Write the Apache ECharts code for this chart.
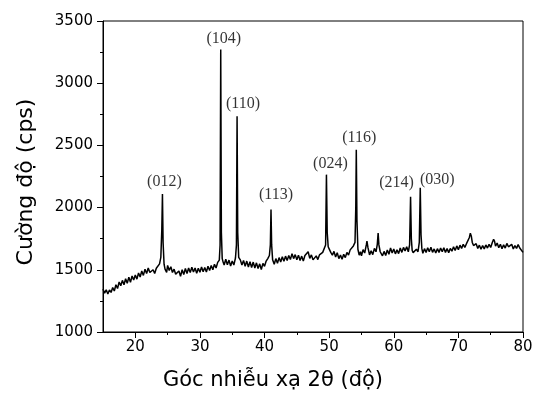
<!DOCTYPE html>
<html>
<head>
<meta charset="utf-8">
<script src="https://cdn.jsdelivr.net/npm/echarts@6/dist/echarts.min.js"></script>
<style>
  html, body { margin: 0; padding: 0; background: #fff; }
  #chart { width: 536px; height: 396px; }
</style>
</head>
<body>
<div id="chart"></div>
<script>
// XRD scan: 2θ (deg) and intensity (cps)
const angle = [
  15.00, 15.25, 15.50, 15.75, 16.00, 16.25, 16.50, 16.75, 17.00, 17.25,
  17.50, 17.75, 18.00, 18.25, 18.50, 18.75, 19.00, 19.25, 19.50, 19.75,
  20.00, 20.25, 20.50, 20.75, 21.00, 21.25, 21.50, 21.75, 22.00, 22.25,
  22.50, 22.75, 23.00, 23.25, 23.50, 23.75, 23.95, 24.10, 24.20, 24.30,
  24.45, 24.60, 24.85, 25.00, 25.25, 25.50, 25.75, 26.00, 26.25, 26.50,
  26.75, 27.00, 27.25, 27.50, 27.75, 28.00, 28.25, 28.50, 28.75, 29.00,
  29.25, 29.50, 29.75, 30.00, 30.25, 30.50, 30.75, 31.00, 31.25, 31.50,
  31.75, 32.00, 32.25, 32.50, 32.75, 33.00, 33.12, 33.22, 33.32, 33.45,
  33.60, 33.75, 34.00, 34.25, 34.50, 34.75, 35.00, 35.25, 35.50, 35.65,
  35.75, 35.85, 36.00, 36.25, 36.50, 36.75, 37.00, 37.25, 37.50, 37.75,
  38.00, 38.25, 38.50, 38.75, 39.00, 39.25, 39.50, 39.75, 40.00, 40.25,
  40.50, 40.75, 40.90, 41.00, 41.10, 41.25, 41.50, 41.75, 42.00, 42.25,
  42.50, 42.75, 43.00, 43.25, 43.50, 43.75, 44.00, 44.25, 44.50, 44.75,
  45.00, 45.25, 45.50, 45.75, 46.00, 46.25, 46.50, 46.75, 47.00, 47.25,
  47.50, 47.75, 48.00, 48.25, 48.50, 48.75, 49.00, 49.25, 49.45, 49.58,
  49.70, 49.85, 50.00, 50.25, 50.50, 50.75, 51.00, 51.25, 51.50, 51.75,
  52.00, 52.25, 52.50, 52.75, 53.00, 53.25, 53.50, 53.75, 54.00, 54.12,
  54.20, 54.30, 54.45, 54.65, 54.85, 55.00, 55.25, 55.50, 55.75, 55.85,
  56.00, 56.25, 56.50, 56.75, 57.00, 57.25, 57.45, 57.58, 57.70, 57.90,
  58.00, 58.25, 58.50, 58.75, 59.00, 59.25, 59.50, 59.75, 60.00, 60.25,
  60.50, 60.75, 61.00, 61.25, 61.50, 61.75, 62.00, 62.25, 62.45, 62.60,
  62.72, 62.85, 63.00, 63.25, 63.50, 63.75, 63.95, 64.10, 64.22, 64.35,
  64.50, 64.75, 65.00, 65.25, 65.50, 65.75, 66.00, 66.25, 66.50, 66.75,
  67.00, 67.25, 67.50, 67.75, 68.00, 68.25, 68.50, 68.75, 69.00, 69.25,
  69.50, 69.75, 70.00, 70.25, 70.50, 70.75, 71.00, 71.25, 71.50, 71.70,
  71.85, 72.00, 72.15, 72.35, 72.50, 72.75, 73.00, 73.25, 73.50, 73.75,
  74.00, 74.25, 74.50, 74.75, 75.00, 75.25, 75.45, 75.60, 75.75, 76.00,
  76.25, 76.50, 76.75, 77.00, 77.25, 77.50, 77.75, 78.00, 78.25, 78.50,
  78.75, 79.00, 79.25, 79.50, 79.75, 80.00
];
const count = [
  1345, 1312, 1340, 1305, 1338, 1318, 1358, 1330, 1380, 1350,
  1402, 1372, 1415, 1380, 1428, 1392, 1440, 1400, 1450, 1418,
  1458, 1425, 1475, 1442, 1490, 1455, 1505, 1470, 1515, 1478,
  1462, 1500, 1470, 1512, 1525, 1548, 1600, 1820, 2110, 1720,
  1545, 1505, 1480, 1535, 1495, 1525, 1478, 1505, 1465, 1452,
  1490, 1448, 1500, 1462, 1510, 1470, 1515, 1478, 1520, 1482,
  1515, 1472, 1512, 1480, 1522, 1485, 1518, 1482, 1528, 1495,
  1535, 1500, 1545, 1515, 1560, 1578, 1700, 3270, 1800, 1590,
  1560, 1538, 1585, 1540, 1578, 1530, 1570, 1538, 1595, 1700,
  2735, 1800, 1600, 1580, 1538, 1575, 1528, 1570, 1522, 1565,
  1518, 1562, 1515, 1556, 1510, 1548, 1502, 1552, 1528, 1570,
  1590, 1615, 1700, 1985, 1700, 1580, 1545, 1590, 1552, 1598,
  1562, 1605, 1568, 1610, 1575, 1615, 1582, 1630, 1590, 1622,
  1580, 1618, 1575, 1610, 1570, 1615, 1605, 1645, 1592, 1620,
  1580, 1572, 1612, 1582, 1620, 1612, 1640, 1650, 1700, 2265,
  1800, 1685, 1668, 1640, 1618, 1648, 1602, 1638, 1590, 1618,
  1585, 1625, 1598, 1640, 1618, 1660, 1655, 1692, 1720, 2000,
  2465, 1900, 1665, 1618, 1645, 1612, 1662, 1635, 1700, 1730,
  1680, 1620, 1652, 1622, 1672, 1645, 1705, 1796, 1700, 1645,
  1650, 1612, 1648, 1615, 1660, 1625, 1675, 1635, 1668, 1628,
  1660, 1630, 1675, 1640, 1680, 1652, 1685, 1645, 1700, 2088,
  1750, 1655, 1638, 1632, 1665, 1645, 1720, 2160, 1780, 1670,
  1632, 1670, 1640, 1678, 1645, 1682, 1640, 1668, 1635, 1670,
  1640, 1675, 1645, 1678, 1640, 1670, 1638, 1672, 1650, 1685,
  1655, 1692, 1662, 1698, 1672, 1705, 1680, 1710, 1712, 1760,
  1795, 1770, 1720, 1695, 1680, 1710, 1672, 1698, 1665, 1695,
  1668, 1700, 1675, 1705, 1680, 1720, 1745, 1728, 1690, 1715,
  1678, 1705, 1670, 1700, 1675, 1712, 1685, 1695, 1705, 1668,
  1695, 1672, 1702, 1675, 1690, 1640
];

// indexed reflections
const peakHkl = ['(012)', '(104)', '(110)', '(113)', '(024)', '(116)', '(214)', '(030)'];
const peakAngle = [24.20, 33.22, 35.75, 41.00, 49.58, 54.20, 62.60, 64.10];

const xTickLabels = [20, 30, 40, 50, 60, 70, 80];
const xMinorTicks = [25, 35, 45, 55, 65, 75];

// label nudges (px) so the hkl text sits where it does in the original
const labelNudge = [[2, -4], [3, -3], [6, -4], [5, -7], [4, -3], [3, -4], [-14, -6], [17, 0]];

const scan = angle.map((a, i) => [a, count[i]]);

// top of each reflection = highest count within ±0.2° of its angle
const peakTop = peakAngle.map(p => {
  let m = 0;
  angle.forEach((a, i) => { if (Math.abs(a - p) <= 0.2 && count[i] > m) m = count[i]; });
  return m;
});

const chart = echarts.init(document.getElementById('chart'));

const tickFont = { fontFamily: 'DejaVu Sans', fontSize: 15, color: '#000' };

const option = {
  animation: false,
  backgroundColor: '#fff',
  grid: {
    left: 103, right: 13, top: 21, bottom: 61,
    show: true, borderColor: '#000', borderWidth: 1, backgroundColor: 'transparent'
  },
  xAxis: [
    {
      type: 'value',
      min: 15,
      max: 80,
      position: 'bottom',
      name: 'Góc nhiễu xạ 2θ (độ)',
      nameLocation: 'middle',
      nameGap: 38,
      nameTextStyle: { fontFamily: 'DejaVu Sans', fontSize: 21, color: '#000', padding: [0, 80, 0, 0] },
      axisLine: { show: true, onZero: false, lineStyle: { color: '#000', width: 1 } },
      axisTick: { show: true, inside: false, length: 6, customValues: xTickLabels, lineStyle: { color: '#000' } },
      axisLabel: { ...tickFont, margin: 8, customValues: xTickLabels },
      splitLine: { show: false }
    },
    {
      type: 'value',
      min: 15,
      max: 80,
      position: 'bottom',
      axisLine: { show: false },
      axisTick: { show: true, inside: false, length: 3, customValues: xMinorTicks, lineStyle: { color: '#000' } },
      axisLabel: { show: false },
      splitLine: { show: false }
    }
  ],
  yAxis: {
    type: 'value',
    min: 1000,
    max: 3500,
    interval: 500,
    name: 'Cường độ (cps)',
    nameLocation: 'middle',
    nameGap: 66,
    nameRotate: 90,
    nameTextStyle: { fontFamily: 'DejaVu Sans', fontSize: 22, color: '#000', padding: [0, 11, 0, 0] },
    axisLine: { show: true, onZero: false, lineStyle: { color: '#000', width: 1 } },
    axisTick: { show: true, inside: false, length: 6, lineStyle: { color: '#000' } },
    minorTick: { show: true, splitNumber: 2, length: 3, lineStyle: { color: '#000' } },
    axisLabel: { ...tickFont, margin: 10, formatter: v => String(v) },
    splitLine: { show: false }
  },
  series: [
    {
      type: 'line',
      data: scan,
      showSymbol: false,
      symbol: 'none',
      lineStyle: { color: '#000', width: 1.5 },
      z: 2
    },
    {
      type: 'scatter',
      symbolSize: 0,
      data: peakHkl.map((h, i) => ({
        value: [peakAngle[i], peakTop[i]],
        label: { offset: labelNudge[i] }
      })),
      label: {
        show: true,
        position: 'top',
        distance: 0,
        formatter: p => peakHkl[p.dataIndex],
        fontFamily: 'Liberation Serif',
        fontSize: 16,
        color: '#000'
      },
      z: 3
    }
  ]
};

chart.setOption(option);
window.addEventListener('resize', () => chart.resize());
</script>
</body>
</html>
